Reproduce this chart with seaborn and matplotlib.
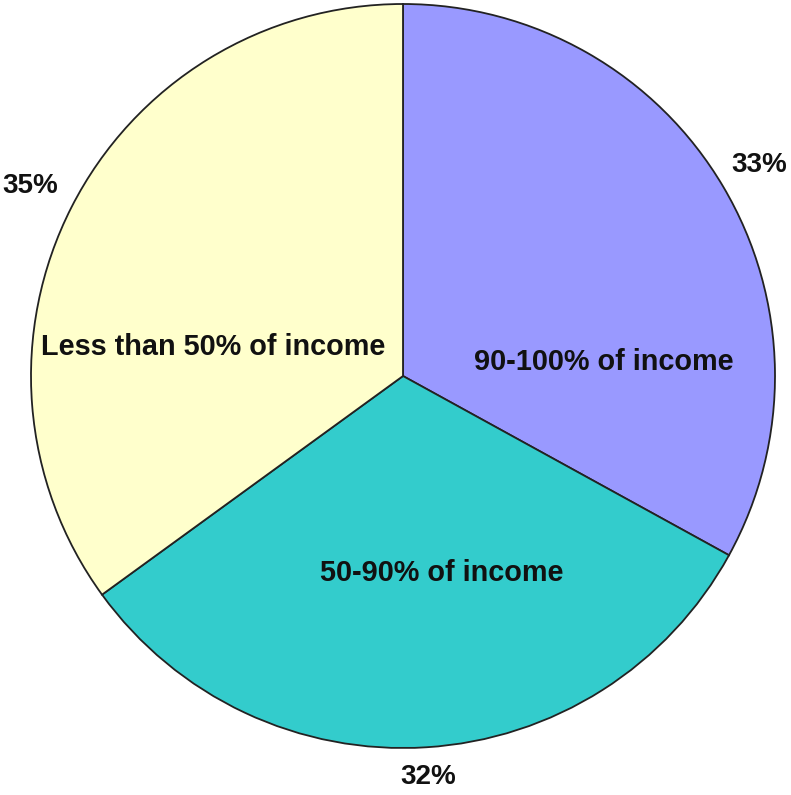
import matplotlib
matplotlib.use("Agg")
import matplotlib.pyplot as plt
import seaborn as sns
import numpy as np

sns.set_theme(style="white")
plt.rcParams['font.family'] = ['Liberation Sans', 'DejaVu Sans']

categories = ["90-100% of income", "50-90% of income", "Less than 50% of income"]
values = [33, 32, 35]
pct_labels = ["33%", "32%", "35%"]
colors = ["#9999FF", "#33CCCC", "#FFFFCC"]

# layout: inner label placement (angle deg, radius) and outer pct radius
inner_pos = [(4, 0.54), (-79, 0.54), (171.3, 0.515)]
outer_r = [1.112, 1.08, 1.125]

fig = plt.figure(figsize=(7.91, 7.95), dpi=100)
ax = fig.add_axes([0, 0, 1, 1])
wedges, _ = ax.pie(values, colors=colors, startangle=90, counterclock=False,
                   wedgeprops=dict(edgecolor="#222222", linewidth=1.3))

for w, lab, r in zip(wedges, pct_labels, outer_r):
    mid = np.deg2rad((w.theta1 + w.theta2) / 2)
    ax.text(r * np.cos(mid), r * np.sin(mid), lab, ha="center", va="center",
            fontsize=20, fontweight="bold", color="#111111")

for name, (ang, r) in zip(categories, inner_pos):
    a = np.deg2rad(ang)
    ax.text(r * np.cos(a), r * np.sin(a), name, ha="center", va="center",
            fontsize=20.8, fontweight="bold", color="#111111")

R = 372.0
ax.set_aspect("auto")
ax.set_xlim(-403 / R, (791 - 403) / R)
ax.set_ylim(-419 / R, 376 / R)
ax.axis("off")
fig.savefig("out.png", dpi=100, facecolor="white")
